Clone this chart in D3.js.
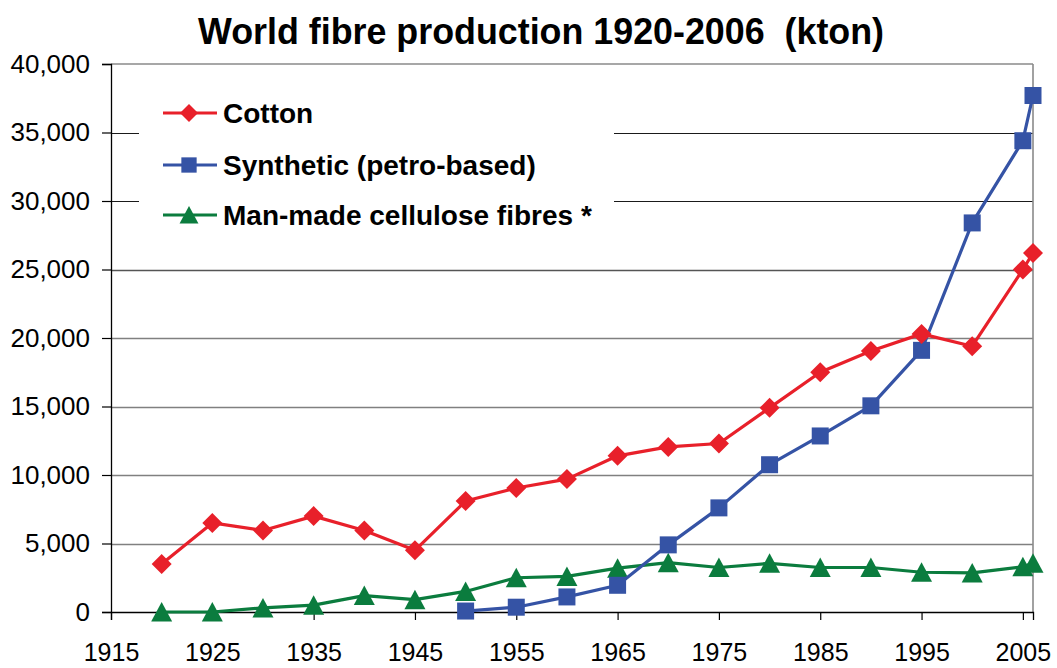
<!DOCTYPE html>
<html>
<head>
<meta charset="utf-8">
<script src="https://cdn.jsdelivr.net/npm/d3@7"></script>
<style>
  html, body { margin: 0; padding: 0; background: #fff; }
  svg { display: block; font-family: "Liberation Sans", Arial, Helvetica, sans-serif; }
</style>
</head>
<body>
<svg id="chart" width="1057" height="668"></svg>
<script>
// ---- data ----
const title = "World fibre production 1920-2006  (kton)";
const years = [1920, 1925, 1930, 1935, 1940, 1945, 1950, 1955, 1960, 1965, 1970, 1975, 1980, 1985, 1990, 1995, 2000, 2005, 2006];
const cotton = [3500, 6500, 5950, 7000, 5950, 4500, 8100, 9050, 9700, 11400, 12050, 12300, 14900, 17500, 19050, 20300, 19400, 25000, 26200];
const synthYears = [1950, 1955, 1960, 1965, 1970, 1975, 1980, 1985, 1990, 1995, 2000, 2005, 2006];
const synthetic = [70, 350, 1100, 1950, 4900, 7600, 10750, 12850, 15050, 19100, 28400, 34400, 37700];
const cellulose = [0, 0, 300, 500, 1200, 900, 1500, 2500, 2600, 3200, 3600, 3250, 3550, 3250, 3250, 2900, 2850, 3300, 3550];
const seriesNames = ["Cotton", "Synthetic (petro-based)", "Man-made cellulose fibres *"];
const xTicks = [1915, 1925, 1935, 1945, 1955, 1965, 1975, 1985, 1995, 2005];
const yTicks = [0, 5000, 10000, 15000, 20000, 25000, 30000, 35000, 40000];

// ---- layout ----
const svg = d3.select("#chart");
const pLeft = 111, pRight = 1033, pTop = 64, pBottom = 612;
const x = d3.scaleLinear().domain([1915, 2006]).range([pLeft, pRight]);
const y = d3.scaleLinear().domain([0, 40000]).range([pBottom, pTop]);

const colors = ["#e8202a", "#3553a5", "#0b7c3e"];
const shapes = [
  "M0,-10L10,0L0,10L-10,0Z",
  "M-8.5,-8.5H8.5V8.5H-8.5Z",
  "M0,-10L10.5,9.5L-10.5,9.5Z"
];

// title
svg.append("text")
  .attr("x", 198).attr("y", 44)
  .attr("font-size", 36).attr("font-weight", "bold")
  .attr("textLength", 686).attr("lengthAdjust", "spacingAndGlyphs")
  .style("white-space", "pre")
  .attr("fill", "#000")
  .text(title);

// gridlines
const grid = svg.append("g");
yTicks.filter(v => v > 0 && v < 40000).forEach(v => {
  const dark = v >= 30000;
  grid.append("line")
    .attr("x1", pLeft).attr("x2", pRight)
    .attr("y1", Math.round(y(v)) + 0.5).attr("y2", Math.round(y(v)) + 0.5)
    .attr("stroke", dark ? "#1a1a1a" : (v === 25000 ? "#555" : "#808080"))
    .attr("stroke-width", dark ? 1.2 : 1.6);
});
// frame top/right
svg.append("line").attr("x1", pLeft).attr("x2", pRight).attr("y1", pTop).attr("y2", pTop)
  .attr("stroke", "#8a8a8a").attr("stroke-width", 1.6);
svg.append("line").attr("x1", pRight).attr("x2", pRight).attr("y1", pTop).attr("y2", pBottom)
  .attr("stroke", "#8a8a8a").attr("stroke-width", 1.6);

// legend background (covers gridlines)
svg.append("rect").attr("x", 139).attr("y", 82).attr("width", 475).attr("height", 160).attr("fill", "#fff");

// axes
const yAxis = d3.axisLeft(y).tickValues(yTicks).tickSize(9).tickPadding(12)
  .tickFormat(d3.format(","));
const gy = svg.append("g").attr("transform", `translate(${pLeft},0)`).call(yAxis);
gy.select(".domain").attr("stroke", "#000").attr("stroke-width", 1.3);
gy.selectAll(".tick line").attr("stroke", "#000").attr("stroke-width", 1.2);
gy.selectAll(".tick text").attr("font-size", 26).attr("fill", "#000")
  .attr("font-family", "Liberation Sans, Arial, sans-serif");

const xAxis = d3.axisBottom(x).tickValues(xTicks).tickSize(8).tickPadding(23)
  .tickFormat(d3.format("d"));
const gx = svg.append("g").attr("transform", `translate(0,${pBottom})`).call(xAxis);
gx.select(".domain").attr("stroke", "#000").attr("stroke-width", 1.3);
gx.selectAll(".tick line").attr("stroke", "#000").attr("stroke-width", 1.2);
gx.selectAll(".tick text").attr("font-size", 25).attr("fill", "#000")
  .attr("font-family", "Liberation Sans, Arial, sans-serif");

// series
const series = [
  years.map((yr, i) => ({ yr, v: cotton[i] })),
  synthYears.map((yr, i) => ({ yr, v: synthetic[i] })),
  years.map((yr, i) => ({ yr, v: cellulose[i] }))
];
const line = d3.line().x(d => x(d.yr)).y(d => y(d.v));

const order = [2, 1, 0];
order.forEach(si => {
  const g = svg.append("g");
  g.append("path").datum(series[si]).attr("d", line)
    .attr("fill", "none").attr("stroke", colors[si]).attr("stroke-width", 3.2)
    .attr("stroke-linejoin", "round");
  g.selectAll("path.m").data(series[si]).join("path").attr("class", "m")
    .attr("d", shapes[si])
    .attr("transform", d => `translate(${x(d.yr)},${y(d.v)})`)
    .attr("fill", colors[si]);
});

// legend
const legY = [113, 165, 215];
seriesNames.forEach((name, i) => {
  const g = svg.append("g").attr("transform", `translate(0,${legY[i]})`);
  g.append("line").attr("x1", 163).attr("x2", 217).attr("y1", 0).attr("y2", 0)
    .attr("stroke", colors[i]).attr("stroke-width", 3.2);
  g.append("path").attr("d", shapes[i]).attr("transform", "translate(189,0) scale(0.9)")
    .attr("fill", colors[i]);
  g.append("text").attr("x", 223).attr("y", 10)
    .attr("font-size", 28).attr("font-weight", "bold").attr("fill", "#000")
    .text(name);
});
</script>
</body>
</html>
